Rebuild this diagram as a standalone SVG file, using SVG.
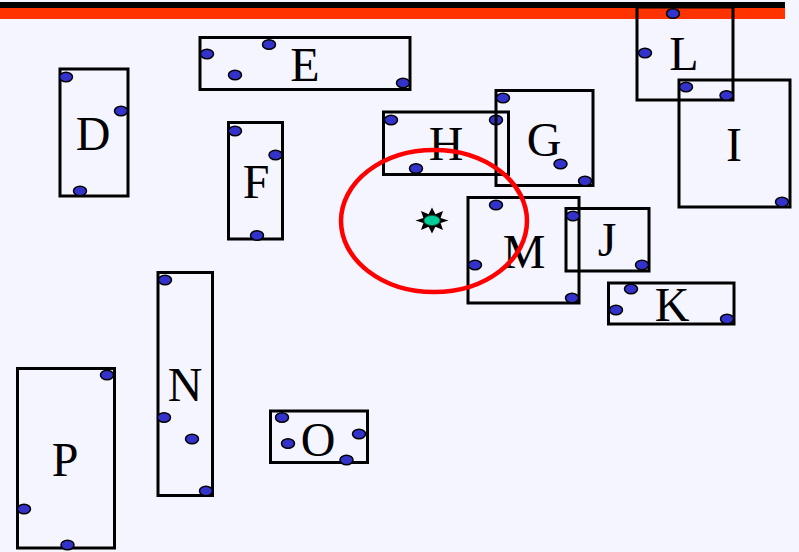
<svg xmlns="http://www.w3.org/2000/svg" width="799" height="552" viewBox="0 0 799 552">
<style>
.box{fill:none;stroke:#000;stroke-width:3}
.dot{fill:#3333CC;stroke:#000;stroke-width:1.5}
.lbl{font-family:"Liberation Serif","Times New Roman",serif;font-size:48px;fill:#000;text-anchor:middle}
</style>
<defs>
<ellipse id="d" class="dot" rx="6.5" ry="4.8"/>
</defs>
<rect x="0" y="0" width="799" height="552" fill="#F5F5FF"/>
<rect x="0" y="2" width="785" height="6" fill="#000"/>
<rect x="0" y="8" width="785" height="11" fill="#FF3300"/>

<g id="D"><rect class="box" x="60" y="69" width="68" height="127"/><text class="lbl" x="93" y="150">D</text><use href="#d" x="66" y="77"/><use href="#d" x="121" y="111"/><use href="#d" x="80" y="191"/></g>
<g id="E"><rect class="box" x="200" y="37.5" width="210" height="52"/><text class="lbl" x="305" y="81">E</text><use href="#d" x="207" y="54"/><use href="#d" x="269" y="44.5"/><use href="#d" x="235" y="75"/><use href="#d" x="403" y="83"/></g>
<g id="F"><rect class="box" x="228.5" y="122.5" width="54" height="116.5"/><text class="lbl" x="256" y="198">F</text><use href="#d" x="235" y="131"/><use href="#d" x="275.5" y="155"/><use href="#d" x="257" y="235.5"/></g>
<g id="H"><rect class="box" x="383.5" y="112" width="125" height="62.5"/><text class="lbl" x="446" y="160">H</text><use href="#d" x="391" y="120"/><use href="#d" x="496" y="120"/><use href="#d" x="416" y="168.5"/></g>
<g id="G"><rect class="box" x="496" y="90.5" width="97" height="95"/><text class="lbl" x="544" y="156">G</text><use href="#d" x="503" y="98"/><use href="#d" x="560.5" y="164"/><use href="#d" x="585" y="181"/></g>
<g id="L"><rect class="box" x="637" y="7" width="96" height="93"/><text class="lbl" x="684" y="70">L</text><use href="#d" x="673" y="13.5"/><use href="#d" x="645" y="53"/></g>
<g id="I"><rect class="box" x="679" y="80" width="111" height="127"/><text class="lbl" x="734" y="161">I</text><use href="#d" x="686" y="87"/><use href="#d" x="726.5" y="95.5"/><use href="#d" x="782" y="202"/></g>
<g id="M"><rect class="box" x="468" y="197.5" width="111" height="105.5"/><text class="lbl" x="524" y="268">M</text><use href="#d" x="496" y="205"/><use href="#d" x="475" y="265"/><use href="#d" x="572" y="298"/></g>
<g id="J"><rect class="box" x="566" y="208.5" width="83" height="62.5"/><text class="lbl" x="607" y="256">J</text><use href="#d" x="573" y="216"/><use href="#d" x="642" y="265"/></g>
<g id="K"><rect class="box" x="608.5" y="283" width="125.5" height="41"/><text class="lbl" x="672" y="321">K</text><use href="#d" x="631" y="289"/><use href="#d" x="616" y="310"/><use href="#d" x="727" y="319"/></g>
<g id="N"><rect class="box" x="158" y="272.5" width="54.5" height="223"/><text class="lbl" x="185" y="401">N</text><use href="#d" x="165" y="280"/><use href="#d" x="164" y="417.5"/><use href="#d" x="192" y="439"/><use href="#d" x="206" y="491"/></g>
<g id="O"><rect class="box" x="270.5" y="411" width="97" height="51.5"/><text class="lbl" x="318" y="456">O</text><use href="#d" x="282" y="417.5"/><use href="#d" x="288" y="443.5"/><use href="#d" x="359" y="434"/><use href="#d" x="346.5" y="460"/></g>
<g id="P"><rect class="box" x="17.5" y="368.5" width="97" height="179.5"/><text class="lbl" x="65" y="476">P</text><use href="#d" x="107" y="375"/><use href="#d" x="24" y="509"/><use href="#d" x="67.5" y="545"/></g>

<g id="region">
<ellipse cx="434" cy="221" rx="93" ry="71" fill="none" stroke="#FF0000" stroke-width="4.5"/>
</g>
<g id="star" transform="translate(432,220.5)">
<polygon points="0,-13 3.4,-6.2 11,-9.5 8.6,-2.6 16.5,0 8.6,2.6 11,9.5 3.4,6.2 0,13 -3.4,6.2 -11,9.5 -8.6,2.6 -16.5,0 -8.6,-2.6 -11,-9.5 -3.4,-6.2" fill="#000"/>
<ellipse cx="0" cy="0" rx="8" ry="5" fill="#00CC99" stroke="#006644" stroke-width="0.8"/>
</g>
<g id="connectors"></g>
</svg>
